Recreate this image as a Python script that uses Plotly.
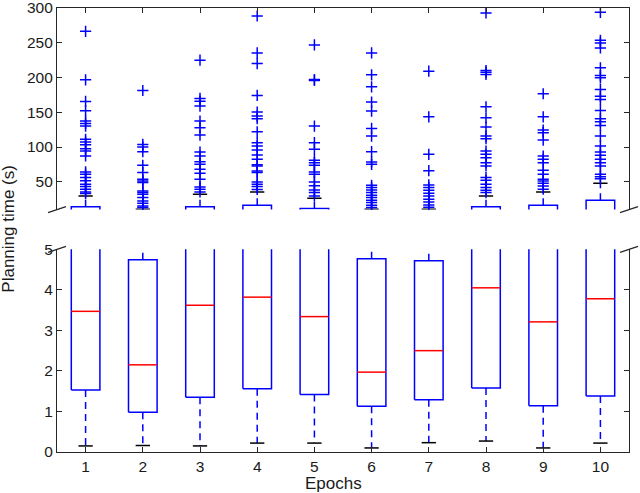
import plotly.graph_objects as go

# box statistics (seconds)
epochs = [1, 2, 3, 4, 5, 6, 7, 8, 9, 10]
q1 = [1.53, 0.98, 1.35, 1.56, 1.42, 1.13, 1.29, 1.58, 1.14, 1.38]
medians = [3.47, 2.15, 3.62, 3.82, 3.34, 1.97, 2.50, 4.05, 3.21, 3.78]
q3 = [13.9, 4.74, 13.9, 16.3, 11.5, 4.77, 4.72, 13.9, 16.3, 23.4]
whisker_low = [0.15, 0.16, 0.15, 0.22, 0.22, 0.10, 0.23, 0.27, 0.10, 0.22]
whisker_high = [29.7, 10.4, 32.0, 35.4, 26.3, 10.4, 10.4, 29.7, 35.4, 47.8]

# outliers per epoch
out_e1 = [266.5, 196.7, 165.6, 152.2, 137.3, 134.0, 130.1, 111.0, 107.2, 103.3, 97.6, 94.3,
          87.1, 64.1, 60.9, 56.0, 51.3, 46.5, 43.1, 39.3, 35.4, 33.0]
out_e2 = [181.3, 103.8, 100.0, 93.3, 73.7, 63.2, 53.6, 51.2, 48.8, 36.8, 34.4, 32.0, 27.3,
          22.5, 19.1, 15.3, 13.0]
out_e3 = [224.9, 169.9, 166.0, 158.9, 137.3, 127.8, 117.2, 92.8, 87.1, 78.9, 75.1, 67.9, 62.2,
          53.6, 42.6, 39.3, 35.4]
out_e4 = [288.5, 235.4, 220.1, 174.2, 150.2, 144.5, 140.7, 122.0, 106.2, 101.4, 95.7, 88.5,
          82.3, 74.6, 72.7, 65.6, 63.2, 49.8, 46.5, 43.1, 39.0]
out_e5 = [246.9, 197.1, 195.7, 130.1, 106.2, 96.7, 80.9, 77.5, 73.7, 64.1, 60.9, 49.8, 44.4,
          38.3, 34.4, 29.7]
out_e6 = [235.4, 203.8, 186.6, 164.6, 151.7, 126.8, 115.8, 93.3, 78.5, 75.1, 45.0, 41.6, 38.3,
          34.4, 30.6, 27.3, 23.4, 20.1, 16.3, 13.0]
out_e7 = [209.1, 143.5, 89.5, 66.0, 45.5, 41.6, 37.8, 33.5, 29.7, 24.9, 21.0, 16.7, 13.4]
out_e8 = [292.8, 210.0, 207.7, 204.3, 157.9, 142.1, 128.7, 115.8, 112.0, 94.3, 89.5, 84.7,
          77.5, 72.7, 56.0, 52.2, 46.5, 41.6, 37.8, 34.4]
out_e9 = [176.6, 143.5, 124.4, 120.6, 110.0, 87.1, 82.3, 77.5, 66.5, 60.9, 53.6, 51.2, 47.8,
          44.0, 39.3]
out_e10 = [293.8, 253.6, 249.8, 242.6, 213.9, 202.9, 199.5, 182.8, 173.2, 168.4, 152.6, 140.7,
           136.4, 131.1, 115.8, 101.4, 92.8, 88.0, 82.3, 77.5, 72.7, 60.9, 57.4, 54.5]
outliers = [out_e1, out_e2, out_e3, out_e4, out_e5, out_e6, out_e7, out_e8, out_e9, out_e10]

BLUE = "#0000ff"
RED = "#ff0000"
INK = "#262626"
FONT = "Liberation Sans"
HALF_BOX = 0.25
HALF_CAP = 0.125


def segs(pairs):
    xs, ys = [], []
    for px, py in pairs:
        xs += list(px) + [None]
        ys += list(py) + [None]
    return xs, ys


box_x, box_y = segs(
    ([e - HALF_BOX, e + HALF_BOX, e + HALF_BOX, e - HALF_BOX, e - HALF_BOX], [a, a, b, b, a])
    for e, a, b in zip(epochs, q1, q3))
med_x, med_y = segs(([e - HALF_BOX, e + HALF_BOX], [m, m]) for e, m in zip(epochs, medians))
wh_x, wh_y = segs(([e, e], [a, lo]) for e, a, lo in zip(epochs, q1, whisker_low))
wh2_x, wh2_y = segs(([e, e], [b, hi]) for e, b, hi in zip(epochs, q3, whisker_high))
cap_x, cap_y = segs(([e - HALF_CAP, e + HALF_CAP], [v, v])
                    for e, lo, hi in zip(epochs, whisker_low, whisker_high) for v in (lo, hi))
out_x = [e for e, vals in zip(epochs, outliers) for _ in vals]
out_y = [v for vals in outliers for v in vals]

fig = go.Figure()

# same marks in both panels, each axis range clips its own part
for xa, ya in (("x", "y"), ("x2", "y2")):
    fig.add_trace(go.Scatter(x=wh_x + wh2_x, y=wh_y + wh2_y, mode="lines", xaxis=xa, yaxis=ya,
                             line=dict(color=BLUE, width=1.5, dash="7px,5px"), hoverinfo="skip"))
    fig.add_trace(go.Scatter(x=cap_x, y=cap_y, mode="lines", xaxis=xa, yaxis=ya,
                             line=dict(color="#000000", width=1.5), hoverinfo="skip"))
    fig.add_trace(go.Scatter(x=box_x, y=box_y, mode="lines", xaxis=xa, yaxis=ya,
                             line=dict(color=BLUE, width=1.5), hoverinfo="skip"))
    fig.add_trace(go.Scatter(x=med_x, y=med_y, mode="lines", xaxis=xa, yaxis=ya,
                             line=dict(color=RED, width=1.5), hoverinfo="skip"))
    fig.add_trace(go.Scatter(x=out_x, y=out_y, mode="markers", xaxis=xa, yaxis=ya,
                             marker=dict(symbol="cross-thin-open", size=8, color=BLUE,
                                         line=dict(color=BLUE, width=1.5))))

axis_common = dict(showline=True, linecolor=INK, linewidth=1.2, ticks="inside", ticklen=5,
                   tickcolor=INK, showgrid=False, zeroline=False, automargin=False,
                   ticklabeloverflow="allow",
                   tickfont=dict(family=FONT, size=15.5, color="#1a1a1a"))

TOP_LOW = 0.546
BOT_HIGH = 0.4565

fig.update_layout(
    width=640, height=493,
    margin=dict(l=57, r=11, t=8, b=41),
    paper_bgcolor="white", plot_bgcolor="white",
    showlegend=False,
    xaxis=dict(axis_common, range=[0.5, 10.5], tickvals=epochs, anchor="y", domain=[0, 1]),
    yaxis=dict(axis_common, range=[0, 5], tickvals=[0, 1, 2, 3, 4, 5], mirror="ticks",
               domain=[0, BOT_HIGH], anchor="x"),
    xaxis2=dict(axis_common, range=[0.5, 10.5], tickvals=epochs, anchor="y2", side="top",
                showticklabels=False, matches="x"),
    yaxis2=dict(axis_common, range=[10, 300], tickvals=[50, 100, 150, 200, 250, 300],
                mirror="ticks", domain=[TOP_LOW, 1], anchor="x2"),
    annotations=[
        dict(text="Planning time (s)", textangle=-90, xref="paper", yref="paper",
             x=0, xshift=-48, y=0.503, showarrow=False, xanchor="center", yanchor="middle",
             font=dict(family=FONT, size=17, color="#1a1a1a")),
        dict(text="Epochs", xref="paper", yref="paper", x=0.484, y=-0.07, showarrow=False,
             xanchor="center", yanchor="middle",
             font=dict(family=FONT, size=17, color="#1a1a1a")),
    ],
)

# axis break marks
for xpos in (0, 1):
    for ypos in (TOP_LOW, BOT_HIGH):
        fig.add_shape(type="line", xref="paper", yref="paper", xsizemode="pixel",
                      ysizemode="pixel", xanchor=xpos, yanchor=ypos, x0=-9, x1=9, y0=-3, y1=3,
                      line=dict(color=INK, width=1.2))

fig.write_html("out.html", config={"displayModeBar": False},
               post_script="document.body.style.margin='0';")
